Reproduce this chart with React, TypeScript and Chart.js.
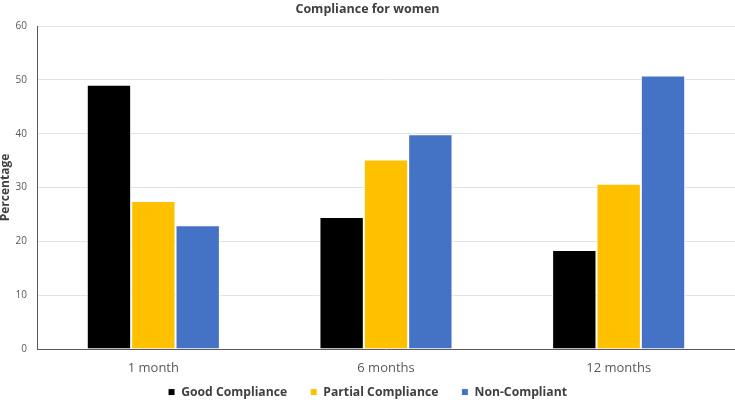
import React, { useEffect, useRef } from "react";
import { Chart, registerables } from "chart.js";

Chart.register(...registerables);

const categories = ["1 month", "6 months", "12 months"];
const goodCompliance = [49.1, 24.5, 18.4];
const partialCompliance = [27.5, 35.2, 30.7];
const nonCompliant = [23.0, 39.9, 50.8];
const seriesNames = ["Good Compliance", "Partial Compliance", "Non-Compliant"];
const seriesColors = ["#000000", "#FFC000", "#4472C4"];

const legendShift = {
  id: "legendShift",
  afterLayout(chart: any) {
    const lg = chart.legend;
    if (lg) {
      lg.top -= 13;
      lg.height = lg.bottom - lg.top;
    }
  },
};

export default function App() {
  const ref = useRef<HTMLCanvasElement | null>(null);
  useEffect(() => {
    if (!ref.current) return;
    const font = "'Open Sans', sans-serif";
    const values = [goodCompliance, partialCompliance, nonCompliant];
    const chart = new Chart(ref.current, {
      type: "bar",
      data: {
        labels: categories,
        datasets: values.map((v, i) => ({
          label: seriesNames[i],
          data: v,
          backgroundColor: seriesColors[i],
          borderColor: "#ffffff",
          borderWidth: 1,
          categoryPercentage: 0.572,
          barPercentage: 1,
        })),
      },
      plugins: [legendShift],
      options: {
        animation: false,
        responsive: false,
        maintainAspectRatio: false,
        layout: { padding: { left: 0, right: 0, top: 0, bottom: 0 } },
        plugins: {
          title: {
            display: true,
            text: "Compliance for women",
            color: "#404040",
            font: { family: font, size: 12.5, weight: "bold" },
            padding: { top: 2, bottom: 9 },
          },
          legend: {
            position: "bottom",
            maxHeight: 24,
            labels: {
              boxWidth: 7,
              boxHeight: 7,
              color: "#404040",
              padding: 23,
              font: { family: font, size: 12.2, weight: "bold" },
            },
          },
          tooltip: { enabled: false },
        },
        scales: {
          x: {
            afterFit: (scale: any) => {
              scale.height = 27;
            },
            grid: { display: false, drawTicks: false },
            border: { display: true, color: "#595959", width: 1 },
            ticks: {
              color: "#595959",
              padding: 11,
              font: { family: font, size: 13 },
            },
          },
          y: {
            min: 0,
            max: 60,
            afterFit: (scale: any) => {
              scale.width = 37;
            },
            ticks: {
              stepSize: 10,
              color: "#595959",
              padding: 10,
              font: { family: font, size: 10 },
            },
            grid: { color: "#e3e3e3", drawTicks: false },
            border: { display: true, color: "#595959", width: 1 },
            title: {
              display: true,
              text: "Percentage",
              color: "#404040",
              padding: { top: -2, bottom: 0 },
              font: { family: font, size: 12, weight: "bold" },
            },
          },
        },
      },
    });
    return () => chart.destroy();
  }, []);
  return (
    <div style={{ position: "absolute", left: 0, top: 0, width: 735, height: 400, background: "#fff" }}>
      <canvas ref={ref} width={735} height={400} style={{ width: 735, height: 400 }} />
    </div>
  );
}
